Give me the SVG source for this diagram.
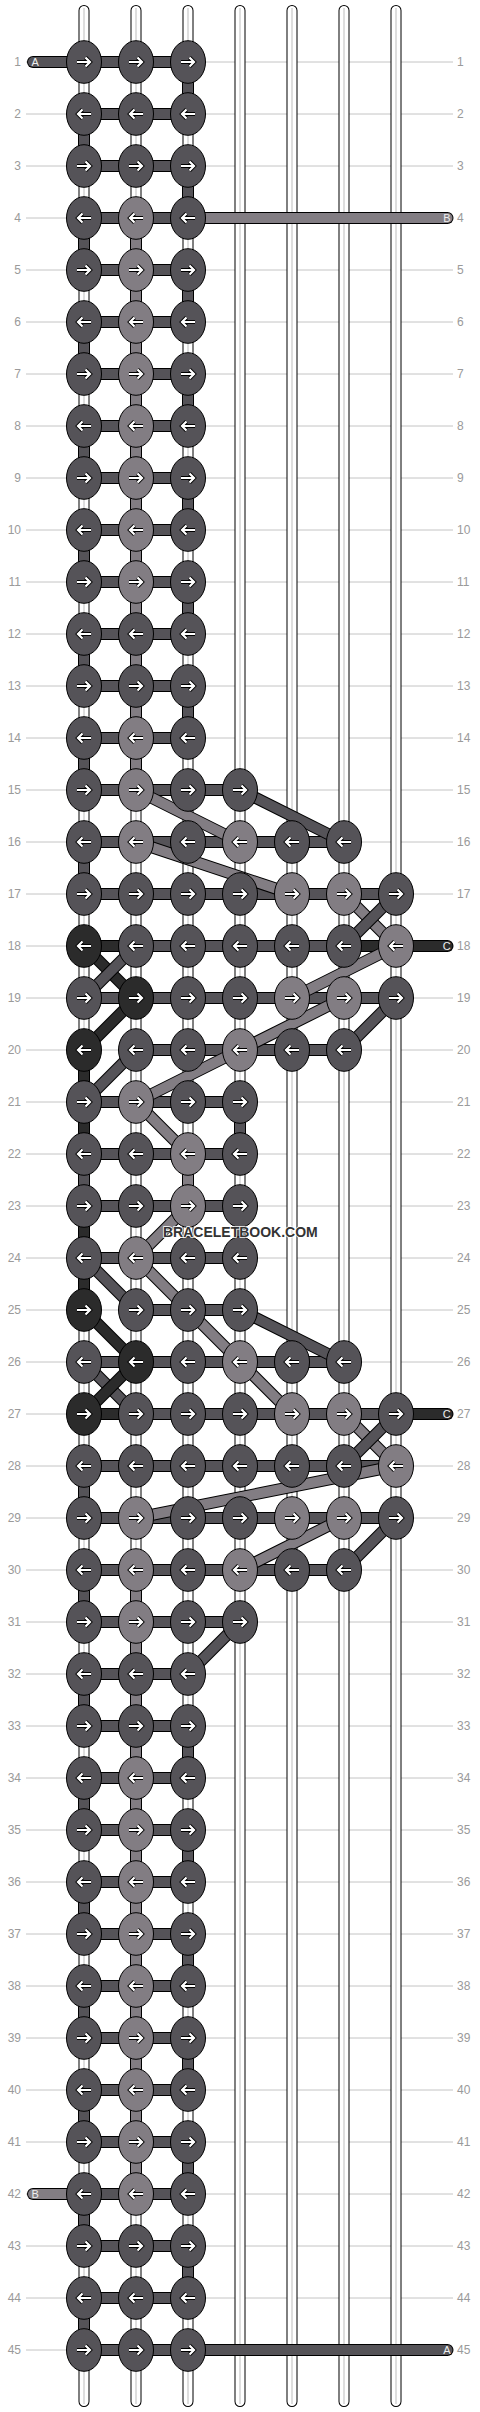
<svg xmlns="http://www.w3.org/2000/svg" xmlns:xlink="http://www.w3.org/1999/xlink" width="480" height="2412" viewBox="0 0 480 2412">
<style>
.grid{fill:none;stroke:#c4c4c4;stroke-width:1}
.num{font-family:"Liberation Sans",Arial,sans-serif;font-size:12px;fill:#9a9a9a}
.ln{text-anchor:end}
.w1{fill:none;stroke:#000;stroke-width:11;stroke-linecap:round}
.w2{fill:none;stroke:#fff;stroke-width:9;stroke-linecap:round}
.w3{fill:none;stroke:#c8c8c8;stroke-width:1.2}
.o{fill:none;stroke:#000;stroke-width:12}
.sd{fill:none;stroke:#555358;stroke-width:10}
.sl{fill:none;stroke:#827d83;stroke-width:10}
.sk{fill:none;stroke:#2b2b2b;stroke-width:10}
.rc{stroke-linecap:round}
.nd,.nl,.nk{stroke:#000;stroke-width:1}
.nd{fill:#555358}
.nl{fill:#827d83}
.nk{fill:#2b2b2b}
.lead{font-family:"Liberation Sans",Arial,sans-serif;font-size:11px;fill:#eee}
.wm{font-family:"Liberation Sans",Arial,sans-serif;font-size:14px;font-weight:bold;fill:#333;stroke:#fff;stroke-width:1.5;paint-order:stroke}
</style>
<defs>
<g id="R">
<path d="M-7,0H5.5M1.5,-4.5L6,0L1.5,4.5" fill="none" stroke="#000" stroke-width="4"/>
<path d="M-7,0H5.5M1.5,-4.5L6,0L1.5,4.5" fill="none" stroke="#fff" stroke-width="2.2"/>
</g>
<use id="L" href="#R" transform="scale(-1 1)"/>
</defs>
<rect width="480" height="2412" fill="#fff"/>
<g id="grid">
<path class="grid" d="M26,62H453M26,114H453M26,166H453M26,218H453M26,270H453M26,322H453M26,374H453M26,426H453M26,478H453M26,530H453M26,582H453M26,634H453M26,686H453M26,738H453M26,790H453M26,842H453M26,894H453M26,946H453M26,998H453M26,1050H453M26,1102H453M26,1154H453M26,1206H453M26,1258H453M26,1310H453M26,1362H453M26,1414H453M26,1466H453M26,1518H453M26,1570H453M26,1622H453M26,1674H453M26,1726H453M26,1778H453M26,1830H453M26,1882H453M26,1934H453M26,1986H453M26,2038H453M26,2090H453M26,2142H453M26,2194H453M26,2246H453M26,2298H453M26,2350H453"/>
</g>
<g id="row-labels">
<text class="num ln" x="21" y="66">1</text><text class="num" x="457" y="66">1</text>
<text class="num ln" x="21" y="118">2</text><text class="num" x="457" y="118">2</text>
<text class="num ln" x="21" y="170">3</text><text class="num" x="457" y="170">3</text>
<text class="num ln" x="21" y="222">4</text><text class="num" x="457" y="222">4</text>
<text class="num ln" x="21" y="274">5</text><text class="num" x="457" y="274">5</text>
<text class="num ln" x="21" y="326">6</text><text class="num" x="457" y="326">6</text>
<text class="num ln" x="21" y="378">7</text><text class="num" x="457" y="378">7</text>
<text class="num ln" x="21" y="430">8</text><text class="num" x="457" y="430">8</text>
<text class="num ln" x="21" y="482">9</text><text class="num" x="457" y="482">9</text>
<text class="num ln" x="21" y="534">10</text><text class="num" x="457" y="534">10</text>
<text class="num ln" x="21" y="586">11</text><text class="num" x="457" y="586">11</text>
<text class="num ln" x="21" y="638">12</text><text class="num" x="457" y="638">12</text>
<text class="num ln" x="21" y="690">13</text><text class="num" x="457" y="690">13</text>
<text class="num ln" x="21" y="742">14</text><text class="num" x="457" y="742">14</text>
<text class="num ln" x="21" y="794">15</text><text class="num" x="457" y="794">15</text>
<text class="num ln" x="21" y="846">16</text><text class="num" x="457" y="846">16</text>
<text class="num ln" x="21" y="898">17</text><text class="num" x="457" y="898">17</text>
<text class="num ln" x="21" y="950">18</text><text class="num" x="457" y="950">18</text>
<text class="num ln" x="21" y="1002">19</text><text class="num" x="457" y="1002">19</text>
<text class="num ln" x="21" y="1054">20</text><text class="num" x="457" y="1054">20</text>
<text class="num ln" x="21" y="1106">21</text><text class="num" x="457" y="1106">21</text>
<text class="num ln" x="21" y="1158">22</text><text class="num" x="457" y="1158">22</text>
<text class="num ln" x="21" y="1210">23</text><text class="num" x="457" y="1210">23</text>
<text class="num ln" x="21" y="1262">24</text><text class="num" x="457" y="1262">24</text>
<text class="num ln" x="21" y="1314">25</text><text class="num" x="457" y="1314">25</text>
<text class="num ln" x="21" y="1366">26</text><text class="num" x="457" y="1366">26</text>
<text class="num ln" x="21" y="1418">27</text><text class="num" x="457" y="1418">27</text>
<text class="num ln" x="21" y="1470">28</text><text class="num" x="457" y="1470">28</text>
<text class="num ln" x="21" y="1522">29</text><text class="num" x="457" y="1522">29</text>
<text class="num ln" x="21" y="1574">30</text><text class="num" x="457" y="1574">30</text>
<text class="num ln" x="21" y="1626">31</text><text class="num" x="457" y="1626">31</text>
<text class="num ln" x="21" y="1678">32</text><text class="num" x="457" y="1678">32</text>
<text class="num ln" x="21" y="1730">33</text><text class="num" x="457" y="1730">33</text>
<text class="num ln" x="21" y="1782">34</text><text class="num" x="457" y="1782">34</text>
<text class="num ln" x="21" y="1834">35</text><text class="num" x="457" y="1834">35</text>
<text class="num ln" x="21" y="1886">36</text><text class="num" x="457" y="1886">36</text>
<text class="num ln" x="21" y="1938">37</text><text class="num" x="457" y="1938">37</text>
<text class="num ln" x="21" y="1990">38</text><text class="num" x="457" y="1990">38</text>
<text class="num ln" x="21" y="2042">39</text><text class="num" x="457" y="2042">39</text>
<text class="num ln" x="21" y="2094">40</text><text class="num" x="457" y="2094">40</text>
<text class="num ln" x="21" y="2146">41</text><text class="num" x="457" y="2146">41</text>
<text class="num ln" x="21" y="2198">42</text><text class="num" x="457" y="2198">42</text>
<text class="num ln" x="21" y="2250">43</text><text class="num" x="457" y="2250">43</text>
<text class="num ln" x="21" y="2302">44</text><text class="num" x="457" y="2302">44</text>
<text class="num ln" x="21" y="2354">45</text><text class="num" x="457" y="2354">45</text>
</g>
<g id="warps">
<path class="w1" d="M84,10.5V2401.5M136,10.5V2401.5M188,10.5V2401.5M240,10.5V2401.5M292,10.5V2401.5M344,10.5V2401.5M396,10.5V2401.5"/>
<path class="w2" d="M84,10.5V2401.5M136,10.5V2401.5M188,10.5V2401.5M240,10.5V2401.5M292,10.5V2401.5M344,10.5V2401.5M396,10.5V2401.5"/>
<path class="w3" d="M84,8V2404M136,8V2404M188,8V2404M240,8V2404M292,8V2404M344,8V2404M396,8V2404"/>
</g>
<g id="connectors">
<path class="o" d="M84,62H188M84,114H188M84,166H188M84,218H188M84,270H188M84,322H188M84,374H188M84,426H188M84,478H188M84,530H188M84,582H188M84,634H188M84,686H188M84,738H188M84,790H240M84,842H344M84,894H396M136,946H344M84,998H396M136,1050H344M84,1102H240M84,1154H240M84,1206H240M84,1258H240M136,1310H240M84,1362H344M136,1414H396M84,1466H396M84,1518H396M84,1570H344M84,1622H240M84,1674H188M84,1726H188M84,1778H188M84,1830H188M84,1882H188M84,1934H188M84,1986H188M84,2038H188M84,2090H188M84,2142H188M84,2194H188M84,2246H188M84,2298H188M84,2350H188M188,62V114M188,166V218M188,270V322M188,374V426M188,478V530M188,582V634M188,686V738M84,114V166M84,218V270M84,322V374M84,426V478M84,530V582M84,634V686M84,738V790M84,842V894M240,1102V1154M84,1154V1206M240,1206V1258M84,1466V1518M84,1570V1622M84,1674V1726M84,1778V1830M84,1882V1934M84,1986V2038M84,2090V2142M84,2194V2246M84,2298V2350M188,1726V1778M188,1830V1882M188,1934V1986M188,2038V2090M188,2142V2194M188,2246V2298M136,218V790M188,1154V1206M136,1570V2194M84,946H136M344,946H396M84,1414H136M84,1050V1154M84,1206V1310"/>
<path class="sd" d="M84,62H188M84,114H188M84,166H188M84,218H188M84,270H188M84,322H188M84,374H188M84,426H188M84,478H188M84,530H188M84,582H188M84,634H188M84,686H188M84,738H188M84,790H240M84,842H344M84,894H396M136,946H344M84,998H396M136,1050H344M84,1102H240M84,1154H240M84,1206H240M84,1258H240M136,1310H240M84,1362H344M136,1414H396M84,1466H396M84,1518H396M84,1570H344M84,1622H240M84,1674H188M84,1726H188M84,1778H188M84,1830H188M84,1882H188M84,1934H188M84,1986H188M84,2038H188M84,2090H188M84,2142H188M84,2194H188M84,2246H188M84,2298H188M84,2350H188M188,62V114M188,166V218M188,270V322M188,374V426M188,478V530M188,582V634M188,686V738M84,114V166M84,218V270M84,322V374M84,426V478M84,530V582M84,634V686M84,738V790M84,842V894M240,1102V1154M84,1154V1206M240,1206V1258M84,1466V1518M84,1570V1622M84,1674V1726M84,1778V1830M84,1882V1934M84,1986V2038M84,2090V2142M84,2194V2246M84,2298V2350M188,1726V1778M188,1830V1882M188,1934V1986M188,2038V2090M188,2142V2194M188,2246V2298"/>
<path class="sl" d="M136,218V790M188,1154V1206M136,1570V2194"/>
<path class="sk" d="M84,946H136M344,946H396M84,1414H136M84,1050V1154M84,1206V1310"/>
<path class="o" d="M136,790L240,842"/><path class="sl" d="M136,790L240,842"/>
<path class="o" d="M240,790L344,842"/><path class="sd" d="M240,790L344,842"/>
<path class="o" d="M136,842L292,894"/><path class="sl" d="M136,842L292,894"/>
<path class="o" d="M344,894L396,946"/><path class="sl" d="M344,894L396,946"/>
<path class="o" d="M396,894L344,946"/><path class="sd" d="M396,894L344,946"/>
<path class="o" d="M84,946L136,998"/><path class="sk" d="M84,946L136,998"/>
<path class="o" d="M136,946L84,998"/><path class="sd" d="M136,946L84,998"/>
<path class="o" d="M396,946L292,998"/><path class="sl" d="M396,946L292,998"/>
<path class="o" d="M136,998L84,1050"/><path class="sk" d="M136,998L84,1050"/>
<path class="o" d="M344,998L240,1050"/><path class="sl" d="M344,998L240,1050"/>
<path class="o" d="M396,998L344,1050"/><path class="sd" d="M396,998L344,1050"/>
<path class="o" d="M136,1050L84,1102"/><path class="sd" d="M136,1050L84,1102"/>
<path class="o" d="M240,1050L136,1102"/><path class="sl" d="M240,1050L136,1102"/>
<path class="o" d="M136,1102L188,1154"/><path class="sl" d="M136,1102L188,1154"/>
<path class="o" d="M188,1206L136,1258"/><path class="sl" d="M188,1206L136,1258"/>
<path class="o" d="M84,1258L136,1310"/><path class="sd" d="M84,1258L136,1310"/>
<path class="o" d="M136,1258L188,1310"/><path class="sl" d="M136,1258L188,1310"/>
<path class="o" d="M84,1310L136,1362"/><path class="sk" d="M84,1310L136,1362"/>
<path class="o" d="M188,1310L240,1362"/><path class="sl" d="M188,1310L240,1362"/>
<path class="o" d="M240,1310L344,1362"/><path class="sd" d="M240,1310L344,1362"/>
<path class="o" d="M84,1362L136,1414"/><path class="sd" d="M84,1362L136,1414"/>
<path class="o" d="M136,1362L84,1414"/><path class="sk" d="M136,1362L84,1414"/>
<path class="o" d="M240,1362L292,1414"/><path class="sl" d="M240,1362L292,1414"/>
<path class="o" d="M344,1414L396,1466"/><path class="sl" d="M344,1414L396,1466"/>
<path class="o" d="M396,1414L344,1466"/><path class="sd" d="M396,1414L344,1466"/>
<path class="o" d="M396,1466L136,1518"/><path class="sl" d="M396,1466L136,1518"/>
<path class="o" d="M344,1518L240,1570"/><path class="sl" d="M344,1518L240,1570"/>
<path class="o" d="M396,1518L344,1570"/><path class="sd" d="M396,1518L344,1570"/>
<path class="o" d="M240,1622L188,1674"/><path class="sd" d="M240,1622L188,1674"/>
<g id="lead-A-in"><path class="o rc" d="M33,62H84"/><path class="sd rc" d="M33,62H84"/><text class="lead" x="31.5" y="66">A</text></g>
<g id="lead-B-in"><path class="o rc" d="M188,218H447.5"/><path class="sl rc" d="M188,218H447.5"/><text class="lead ln" x="450.7" y="222">B</text></g>
<g id="lead-C-in"><path class="o rc" d="M396,946H447.5"/><path class="sk rc" d="M396,946H447.5"/><text class="lead ln" x="450.7" y="950">C</text></g>
<g id="lead-C-out"><path class="o rc" d="M396,1414H447.5"/><path class="sk rc" d="M396,1414H447.5"/><text class="lead ln" x="450.7" y="1418">C</text></g>
<g id="lead-B-out"><path class="o rc" d="M33,2194H84"/><path class="sl rc" d="M33,2194H84"/><text class="lead" x="31.5" y="2198">B</text></g>
<g id="lead-A-out"><path class="o rc" d="M188,2350H447.5"/><path class="sd rc" d="M188,2350H447.5"/><text class="lead ln" x="450.7" y="2354">A</text></g>
</g>
<g id="nodes">
<g id="n1-1" transform="translate(84 62)"><ellipse class="nd" rx="17.5" ry="21.3"/><use href="#R"/></g>
<g id="n1-2" transform="translate(136 62)"><ellipse class="nd" rx="17.5" ry="21.3"/><use href="#R"/></g>
<g id="n1-3" transform="translate(188 62)"><ellipse class="nd" rx="17.5" ry="21.3"/><use href="#R"/></g>
<g id="n2-1" transform="translate(84 114)"><ellipse class="nd" rx="17.5" ry="21.3"/><use href="#L"/></g>
<g id="n2-2" transform="translate(136 114)"><ellipse class="nd" rx="17.5" ry="21.3"/><use href="#L"/></g>
<g id="n2-3" transform="translate(188 114)"><ellipse class="nd" rx="17.5" ry="21.3"/><use href="#L"/></g>
<g id="n3-1" transform="translate(84 166)"><ellipse class="nd" rx="17.5" ry="21.3"/><use href="#R"/></g>
<g id="n3-2" transform="translate(136 166)"><ellipse class="nd" rx="17.5" ry="21.3"/><use href="#R"/></g>
<g id="n3-3" transform="translate(188 166)"><ellipse class="nd" rx="17.5" ry="21.3"/><use href="#R"/></g>
<g id="n4-1" transform="translate(84 218)"><ellipse class="nd" rx="17.5" ry="21.3"/><use href="#L"/></g>
<g id="n4-2" transform="translate(136 218)"><ellipse class="nl" rx="17.5" ry="21.3"/><use href="#L"/></g>
<g id="n4-3" transform="translate(188 218)"><ellipse class="nd" rx="17.5" ry="21.3"/><use href="#L"/></g>
<g id="n5-1" transform="translate(84 270)"><ellipse class="nd" rx="17.5" ry="21.3"/><use href="#R"/></g>
<g id="n5-2" transform="translate(136 270)"><ellipse class="nl" rx="17.5" ry="21.3"/><use href="#R"/></g>
<g id="n5-3" transform="translate(188 270)"><ellipse class="nd" rx="17.5" ry="21.3"/><use href="#R"/></g>
<g id="n6-1" transform="translate(84 322)"><ellipse class="nd" rx="17.5" ry="21.3"/><use href="#L"/></g>
<g id="n6-2" transform="translate(136 322)"><ellipse class="nl" rx="17.5" ry="21.3"/><use href="#L"/></g>
<g id="n6-3" transform="translate(188 322)"><ellipse class="nd" rx="17.5" ry="21.3"/><use href="#L"/></g>
<g id="n7-1" transform="translate(84 374)"><ellipse class="nd" rx="17.5" ry="21.3"/><use href="#R"/></g>
<g id="n7-2" transform="translate(136 374)"><ellipse class="nl" rx="17.5" ry="21.3"/><use href="#R"/></g>
<g id="n7-3" transform="translate(188 374)"><ellipse class="nd" rx="17.5" ry="21.3"/><use href="#R"/></g>
<g id="n8-1" transform="translate(84 426)"><ellipse class="nd" rx="17.5" ry="21.3"/><use href="#L"/></g>
<g id="n8-2" transform="translate(136 426)"><ellipse class="nl" rx="17.5" ry="21.3"/><use href="#L"/></g>
<g id="n8-3" transform="translate(188 426)"><ellipse class="nd" rx="17.5" ry="21.3"/><use href="#L"/></g>
<g id="n9-1" transform="translate(84 478)"><ellipse class="nd" rx="17.5" ry="21.3"/><use href="#R"/></g>
<g id="n9-2" transform="translate(136 478)"><ellipse class="nl" rx="17.5" ry="21.3"/><use href="#R"/></g>
<g id="n9-3" transform="translate(188 478)"><ellipse class="nd" rx="17.5" ry="21.3"/><use href="#R"/></g>
<g id="n10-1" transform="translate(84 530)"><ellipse class="nd" rx="17.5" ry="21.3"/><use href="#L"/></g>
<g id="n10-2" transform="translate(136 530)"><ellipse class="nl" rx="17.5" ry="21.3"/><use href="#L"/></g>
<g id="n10-3" transform="translate(188 530)"><ellipse class="nd" rx="17.5" ry="21.3"/><use href="#L"/></g>
<g id="n11-1" transform="translate(84 582)"><ellipse class="nd" rx="17.5" ry="21.3"/><use href="#R"/></g>
<g id="n11-2" transform="translate(136 582)"><ellipse class="nl" rx="17.5" ry="21.3"/><use href="#R"/></g>
<g id="n11-3" transform="translate(188 582)"><ellipse class="nd" rx="17.5" ry="21.3"/><use href="#R"/></g>
<g id="n12-1" transform="translate(84 634)"><ellipse class="nd" rx="17.5" ry="21.3"/><use href="#L"/></g>
<g id="n12-2" transform="translate(136 634)"><ellipse class="nd" rx="17.5" ry="21.3"/><use href="#L"/></g>
<g id="n12-3" transform="translate(188 634)"><ellipse class="nd" rx="17.5" ry="21.3"/><use href="#L"/></g>
<g id="n13-1" transform="translate(84 686)"><ellipse class="nd" rx="17.5" ry="21.3"/><use href="#R"/></g>
<g id="n13-2" transform="translate(136 686)"><ellipse class="nd" rx="17.5" ry="21.3"/><use href="#R"/></g>
<g id="n13-3" transform="translate(188 686)"><ellipse class="nd" rx="17.5" ry="21.3"/><use href="#R"/></g>
<g id="n14-1" transform="translate(84 738)"><ellipse class="nd" rx="17.5" ry="21.3"/><use href="#L"/></g>
<g id="n14-2" transform="translate(136 738)"><ellipse class="nl" rx="17.5" ry="21.3"/><use href="#L"/></g>
<g id="n14-3" transform="translate(188 738)"><ellipse class="nd" rx="17.5" ry="21.3"/><use href="#L"/></g>
<g id="n15-1" transform="translate(84 790)"><ellipse class="nd" rx="17.5" ry="21.3"/><use href="#R"/></g>
<g id="n15-2" transform="translate(136 790)"><ellipse class="nl" rx="17.5" ry="21.3"/><use href="#R"/></g>
<g id="n15-3" transform="translate(188 790)"><ellipse class="nd" rx="17.5" ry="21.3"/><use href="#R"/></g>
<g id="n15-4" transform="translate(240 790)"><ellipse class="nd" rx="17.5" ry="21.3"/><use href="#R"/></g>
<g id="n16-1" transform="translate(84 842)"><ellipse class="nd" rx="17.5" ry="21.3"/><use href="#L"/></g>
<g id="n16-2" transform="translate(136 842)"><ellipse class="nl" rx="17.5" ry="21.3"/><use href="#L"/></g>
<g id="n16-3" transform="translate(188 842)"><ellipse class="nd" rx="17.5" ry="21.3"/><use href="#L"/></g>
<g id="n16-4" transform="translate(240 842)"><ellipse class="nl" rx="17.5" ry="21.3"/><use href="#L"/></g>
<g id="n16-5" transform="translate(292 842)"><ellipse class="nd" rx="17.5" ry="21.3"/><use href="#L"/></g>
<g id="n16-6" transform="translate(344 842)"><ellipse class="nd" rx="17.5" ry="21.3"/><use href="#L"/></g>
<g id="n17-1" transform="translate(84 894)"><ellipse class="nd" rx="17.5" ry="21.3"/><use href="#R"/></g>
<g id="n17-2" transform="translate(136 894)"><ellipse class="nd" rx="17.5" ry="21.3"/><use href="#R"/></g>
<g id="n17-3" transform="translate(188 894)"><ellipse class="nd" rx="17.5" ry="21.3"/><use href="#R"/></g>
<g id="n17-4" transform="translate(240 894)"><ellipse class="nd" rx="17.5" ry="21.3"/><use href="#R"/></g>
<g id="n17-5" transform="translate(292 894)"><ellipse class="nl" rx="17.5" ry="21.3"/><use href="#R"/></g>
<g id="n17-6" transform="translate(344 894)"><ellipse class="nl" rx="17.5" ry="21.3"/><use href="#R"/></g>
<g id="n17-7" transform="translate(396 894)"><ellipse class="nd" rx="17.5" ry="21.3"/><use href="#R"/></g>
<g id="n18-1" transform="translate(84 946)"><ellipse class="nk" rx="17.5" ry="21.3"/><use href="#L"/></g>
<g id="n18-2" transform="translate(136 946)"><ellipse class="nd" rx="17.5" ry="21.3"/><use href="#L"/></g>
<g id="n18-3" transform="translate(188 946)"><ellipse class="nd" rx="17.5" ry="21.3"/><use href="#L"/></g>
<g id="n18-4" transform="translate(240 946)"><ellipse class="nd" rx="17.5" ry="21.3"/><use href="#L"/></g>
<g id="n18-5" transform="translate(292 946)"><ellipse class="nd" rx="17.5" ry="21.3"/><use href="#L"/></g>
<g id="n18-6" transform="translate(344 946)"><ellipse class="nd" rx="17.5" ry="21.3"/><use href="#L"/></g>
<g id="n18-7" transform="translate(396 946)"><ellipse class="nl" rx="17.5" ry="21.3"/><use href="#L"/></g>
<g id="n19-1" transform="translate(84 998)"><ellipse class="nd" rx="17.5" ry="21.3"/><use href="#R"/></g>
<g id="n19-2" transform="translate(136 998)"><ellipse class="nk" rx="17.5" ry="21.3"/><use href="#R"/></g>
<g id="n19-3" transform="translate(188 998)"><ellipse class="nd" rx="17.5" ry="21.3"/><use href="#R"/></g>
<g id="n19-4" transform="translate(240 998)"><ellipse class="nd" rx="17.5" ry="21.3"/><use href="#R"/></g>
<g id="n19-5" transform="translate(292 998)"><ellipse class="nl" rx="17.5" ry="21.3"/><use href="#R"/></g>
<g id="n19-6" transform="translate(344 998)"><ellipse class="nl" rx="17.5" ry="21.3"/><use href="#R"/></g>
<g id="n19-7" transform="translate(396 998)"><ellipse class="nd" rx="17.5" ry="21.3"/><use href="#R"/></g>
<g id="n20-1" transform="translate(84 1050)"><ellipse class="nk" rx="17.5" ry="21.3"/><use href="#L"/></g>
<g id="n20-2" transform="translate(136 1050)"><ellipse class="nd" rx="17.5" ry="21.3"/><use href="#L"/></g>
<g id="n20-3" transform="translate(188 1050)"><ellipse class="nd" rx="17.5" ry="21.3"/><use href="#L"/></g>
<g id="n20-4" transform="translate(240 1050)"><ellipse class="nl" rx="17.5" ry="21.3"/><use href="#L"/></g>
<g id="n20-5" transform="translate(292 1050)"><ellipse class="nd" rx="17.5" ry="21.3"/><use href="#L"/></g>
<g id="n20-6" transform="translate(344 1050)"><ellipse class="nd" rx="17.5" ry="21.3"/><use href="#L"/></g>
<g id="n21-1" transform="translate(84 1102)"><ellipse class="nd" rx="17.5" ry="21.3"/><use href="#R"/></g>
<g id="n21-2" transform="translate(136 1102)"><ellipse class="nl" rx="17.5" ry="21.3"/><use href="#R"/></g>
<g id="n21-3" transform="translate(188 1102)"><ellipse class="nd" rx="17.5" ry="21.3"/><use href="#R"/></g>
<g id="n21-4" transform="translate(240 1102)"><ellipse class="nd" rx="17.5" ry="21.3"/><use href="#R"/></g>
<g id="n22-1" transform="translate(84 1154)"><ellipse class="nd" rx="17.5" ry="21.3"/><use href="#L"/></g>
<g id="n22-2" transform="translate(136 1154)"><ellipse class="nd" rx="17.5" ry="21.3"/><use href="#L"/></g>
<g id="n22-3" transform="translate(188 1154)"><ellipse class="nl" rx="17.5" ry="21.3"/><use href="#L"/></g>
<g id="n22-4" transform="translate(240 1154)"><ellipse class="nd" rx="17.5" ry="21.3"/><use href="#L"/></g>
<g id="n23-1" transform="translate(84 1206)"><ellipse class="nd" rx="17.5" ry="21.3"/><use href="#R"/></g>
<g id="n23-2" transform="translate(136 1206)"><ellipse class="nd" rx="17.5" ry="21.3"/><use href="#R"/></g>
<g id="n23-3" transform="translate(188 1206)"><ellipse class="nl" rx="17.5" ry="21.3"/><use href="#R"/></g>
<g id="n23-4" transform="translate(240 1206)"><ellipse class="nd" rx="17.5" ry="21.3"/><use href="#R"/></g>
<g id="n24-1" transform="translate(84 1258)"><ellipse class="nd" rx="17.5" ry="21.3"/><use href="#L"/></g>
<g id="n24-2" transform="translate(136 1258)"><ellipse class="nl" rx="17.5" ry="21.3"/><use href="#L"/></g>
<g id="n24-3" transform="translate(188 1258)"><ellipse class="nd" rx="17.5" ry="21.3"/><use href="#L"/></g>
<g id="n24-4" transform="translate(240 1258)"><ellipse class="nd" rx="17.5" ry="21.3"/><use href="#L"/></g>
<g id="n25-1" transform="translate(84 1310)"><ellipse class="nk" rx="17.5" ry="21.3"/><use href="#R"/></g>
<g id="n25-2" transform="translate(136 1310)"><ellipse class="nd" rx="17.5" ry="21.3"/><use href="#R"/></g>
<g id="n25-3" transform="translate(188 1310)"><ellipse class="nd" rx="17.5" ry="21.3"/><use href="#R"/></g>
<g id="n25-4" transform="translate(240 1310)"><ellipse class="nd" rx="17.5" ry="21.3"/><use href="#R"/></g>
<g id="n26-1" transform="translate(84 1362)"><ellipse class="nd" rx="17.5" ry="21.3"/><use href="#L"/></g>
<g id="n26-2" transform="translate(136 1362)"><ellipse class="nk" rx="17.5" ry="21.3"/><use href="#L"/></g>
<g id="n26-3" transform="translate(188 1362)"><ellipse class="nd" rx="17.5" ry="21.3"/><use href="#L"/></g>
<g id="n26-4" transform="translate(240 1362)"><ellipse class="nl" rx="17.5" ry="21.3"/><use href="#L"/></g>
<g id="n26-5" transform="translate(292 1362)"><ellipse class="nd" rx="17.5" ry="21.3"/><use href="#L"/></g>
<g id="n26-6" transform="translate(344 1362)"><ellipse class="nd" rx="17.5" ry="21.3"/><use href="#L"/></g>
<g id="n27-1" transform="translate(84 1414)"><ellipse class="nk" rx="17.5" ry="21.3"/><use href="#R"/></g>
<g id="n27-2" transform="translate(136 1414)"><ellipse class="nd" rx="17.5" ry="21.3"/><use href="#R"/></g>
<g id="n27-3" transform="translate(188 1414)"><ellipse class="nd" rx="17.5" ry="21.3"/><use href="#R"/></g>
<g id="n27-4" transform="translate(240 1414)"><ellipse class="nd" rx="17.5" ry="21.3"/><use href="#R"/></g>
<g id="n27-5" transform="translate(292 1414)"><ellipse class="nl" rx="17.5" ry="21.3"/><use href="#R"/></g>
<g id="n27-6" transform="translate(344 1414)"><ellipse class="nl" rx="17.5" ry="21.3"/><use href="#R"/></g>
<g id="n27-7" transform="translate(396 1414)"><ellipse class="nd" rx="17.5" ry="21.3"/><use href="#R"/></g>
<g id="n28-1" transform="translate(84 1466)"><ellipse class="nd" rx="17.5" ry="21.3"/><use href="#L"/></g>
<g id="n28-2" transform="translate(136 1466)"><ellipse class="nd" rx="17.5" ry="21.3"/><use href="#L"/></g>
<g id="n28-3" transform="translate(188 1466)"><ellipse class="nd" rx="17.5" ry="21.3"/><use href="#L"/></g>
<g id="n28-4" transform="translate(240 1466)"><ellipse class="nd" rx="17.5" ry="21.3"/><use href="#L"/></g>
<g id="n28-5" transform="translate(292 1466)"><ellipse class="nd" rx="17.5" ry="21.3"/><use href="#L"/></g>
<g id="n28-6" transform="translate(344 1466)"><ellipse class="nd" rx="17.5" ry="21.3"/><use href="#L"/></g>
<g id="n28-7" transform="translate(396 1466)"><ellipse class="nl" rx="17.5" ry="21.3"/><use href="#L"/></g>
<g id="n29-1" transform="translate(84 1518)"><ellipse class="nd" rx="17.5" ry="21.3"/><use href="#R"/></g>
<g id="n29-2" transform="translate(136 1518)"><ellipse class="nl" rx="17.5" ry="21.3"/><use href="#R"/></g>
<g id="n29-3" transform="translate(188 1518)"><ellipse class="nd" rx="17.5" ry="21.3"/><use href="#R"/></g>
<g id="n29-4" transform="translate(240 1518)"><ellipse class="nd" rx="17.5" ry="21.3"/><use href="#R"/></g>
<g id="n29-5" transform="translate(292 1518)"><ellipse class="nl" rx="17.5" ry="21.3"/><use href="#R"/></g>
<g id="n29-6" transform="translate(344 1518)"><ellipse class="nl" rx="17.5" ry="21.3"/><use href="#R"/></g>
<g id="n29-7" transform="translate(396 1518)"><ellipse class="nd" rx="17.5" ry="21.3"/><use href="#R"/></g>
<g id="n30-1" transform="translate(84 1570)"><ellipse class="nd" rx="17.5" ry="21.3"/><use href="#L"/></g>
<g id="n30-2" transform="translate(136 1570)"><ellipse class="nl" rx="17.5" ry="21.3"/><use href="#L"/></g>
<g id="n30-3" transform="translate(188 1570)"><ellipse class="nd" rx="17.5" ry="21.3"/><use href="#L"/></g>
<g id="n30-4" transform="translate(240 1570)"><ellipse class="nl" rx="17.5" ry="21.3"/><use href="#L"/></g>
<g id="n30-5" transform="translate(292 1570)"><ellipse class="nd" rx="17.5" ry="21.3"/><use href="#L"/></g>
<g id="n30-6" transform="translate(344 1570)"><ellipse class="nd" rx="17.5" ry="21.3"/><use href="#L"/></g>
<g id="n31-1" transform="translate(84 1622)"><ellipse class="nd" rx="17.5" ry="21.3"/><use href="#R"/></g>
<g id="n31-2" transform="translate(136 1622)"><ellipse class="nl" rx="17.5" ry="21.3"/><use href="#R"/></g>
<g id="n31-3" transform="translate(188 1622)"><ellipse class="nd" rx="17.5" ry="21.3"/><use href="#R"/></g>
<g id="n31-4" transform="translate(240 1622)"><ellipse class="nd" rx="17.5" ry="21.3"/><use href="#R"/></g>
<g id="n32-1" transform="translate(84 1674)"><ellipse class="nd" rx="17.5" ry="21.3"/><use href="#L"/></g>
<g id="n32-2" transform="translate(136 1674)"><ellipse class="nd" rx="17.5" ry="21.3"/><use href="#L"/></g>
<g id="n32-3" transform="translate(188 1674)"><ellipse class="nd" rx="17.5" ry="21.3"/><use href="#L"/></g>
<g id="n33-1" transform="translate(84 1726)"><ellipse class="nd" rx="17.5" ry="21.3"/><use href="#R"/></g>
<g id="n33-2" transform="translate(136 1726)"><ellipse class="nd" rx="17.5" ry="21.3"/><use href="#R"/></g>
<g id="n33-3" transform="translate(188 1726)"><ellipse class="nd" rx="17.5" ry="21.3"/><use href="#R"/></g>
<g id="n34-1" transform="translate(84 1778)"><ellipse class="nd" rx="17.5" ry="21.3"/><use href="#L"/></g>
<g id="n34-2" transform="translate(136 1778)"><ellipse class="nl" rx="17.5" ry="21.3"/><use href="#L"/></g>
<g id="n34-3" transform="translate(188 1778)"><ellipse class="nd" rx="17.5" ry="21.3"/><use href="#L"/></g>
<g id="n35-1" transform="translate(84 1830)"><ellipse class="nd" rx="17.5" ry="21.3"/><use href="#R"/></g>
<g id="n35-2" transform="translate(136 1830)"><ellipse class="nl" rx="17.5" ry="21.3"/><use href="#R"/></g>
<g id="n35-3" transform="translate(188 1830)"><ellipse class="nd" rx="17.5" ry="21.3"/><use href="#R"/></g>
<g id="n36-1" transform="translate(84 1882)"><ellipse class="nd" rx="17.5" ry="21.3"/><use href="#L"/></g>
<g id="n36-2" transform="translate(136 1882)"><ellipse class="nl" rx="17.5" ry="21.3"/><use href="#L"/></g>
<g id="n36-3" transform="translate(188 1882)"><ellipse class="nd" rx="17.5" ry="21.3"/><use href="#L"/></g>
<g id="n37-1" transform="translate(84 1934)"><ellipse class="nd" rx="17.5" ry="21.3"/><use href="#R"/></g>
<g id="n37-2" transform="translate(136 1934)"><ellipse class="nl" rx="17.5" ry="21.3"/><use href="#R"/></g>
<g id="n37-3" transform="translate(188 1934)"><ellipse class="nd" rx="17.5" ry="21.3"/><use href="#R"/></g>
<g id="n38-1" transform="translate(84 1986)"><ellipse class="nd" rx="17.5" ry="21.3"/><use href="#L"/></g>
<g id="n38-2" transform="translate(136 1986)"><ellipse class="nl" rx="17.5" ry="21.3"/><use href="#L"/></g>
<g id="n38-3" transform="translate(188 1986)"><ellipse class="nd" rx="17.5" ry="21.3"/><use href="#L"/></g>
<g id="n39-1" transform="translate(84 2038)"><ellipse class="nd" rx="17.5" ry="21.3"/><use href="#R"/></g>
<g id="n39-2" transform="translate(136 2038)"><ellipse class="nl" rx="17.5" ry="21.3"/><use href="#R"/></g>
<g id="n39-3" transform="translate(188 2038)"><ellipse class="nd" rx="17.5" ry="21.3"/><use href="#R"/></g>
<g id="n40-1" transform="translate(84 2090)"><ellipse class="nd" rx="17.5" ry="21.3"/><use href="#L"/></g>
<g id="n40-2" transform="translate(136 2090)"><ellipse class="nl" rx="17.5" ry="21.3"/><use href="#L"/></g>
<g id="n40-3" transform="translate(188 2090)"><ellipse class="nd" rx="17.5" ry="21.3"/><use href="#L"/></g>
<g id="n41-1" transform="translate(84 2142)"><ellipse class="nd" rx="17.5" ry="21.3"/><use href="#R"/></g>
<g id="n41-2" transform="translate(136 2142)"><ellipse class="nl" rx="17.5" ry="21.3"/><use href="#R"/></g>
<g id="n41-3" transform="translate(188 2142)"><ellipse class="nd" rx="17.5" ry="21.3"/><use href="#R"/></g>
<g id="n42-1" transform="translate(84 2194)"><ellipse class="nd" rx="17.5" ry="21.3"/><use href="#L"/></g>
<g id="n42-2" transform="translate(136 2194)"><ellipse class="nl" rx="17.5" ry="21.3"/><use href="#L"/></g>
<g id="n42-3" transform="translate(188 2194)"><ellipse class="nd" rx="17.5" ry="21.3"/><use href="#L"/></g>
<g id="n43-1" transform="translate(84 2246)"><ellipse class="nd" rx="17.5" ry="21.3"/><use href="#R"/></g>
<g id="n43-2" transform="translate(136 2246)"><ellipse class="nd" rx="17.5" ry="21.3"/><use href="#R"/></g>
<g id="n43-3" transform="translate(188 2246)"><ellipse class="nd" rx="17.5" ry="21.3"/><use href="#R"/></g>
<g id="n44-1" transform="translate(84 2298)"><ellipse class="nd" rx="17.5" ry="21.3"/><use href="#L"/></g>
<g id="n44-2" transform="translate(136 2298)"><ellipse class="nd" rx="17.5" ry="21.3"/><use href="#L"/></g>
<g id="n44-3" transform="translate(188 2298)"><ellipse class="nd" rx="17.5" ry="21.3"/><use href="#L"/></g>
<g id="n45-1" transform="translate(84 2350)"><ellipse class="nd" rx="17.5" ry="21.3"/><use href="#R"/></g>
<g id="n45-2" transform="translate(136 2350)"><ellipse class="nd" rx="17.5" ry="21.3"/><use href="#R"/></g>
<g id="n45-3" transform="translate(188 2350)"><ellipse class="nd" rx="17.5" ry="21.3"/><use href="#R"/></g>
</g>
<text class="wm" x="163" y="1237">BRACELETBOOK.COM</text>
</svg>
